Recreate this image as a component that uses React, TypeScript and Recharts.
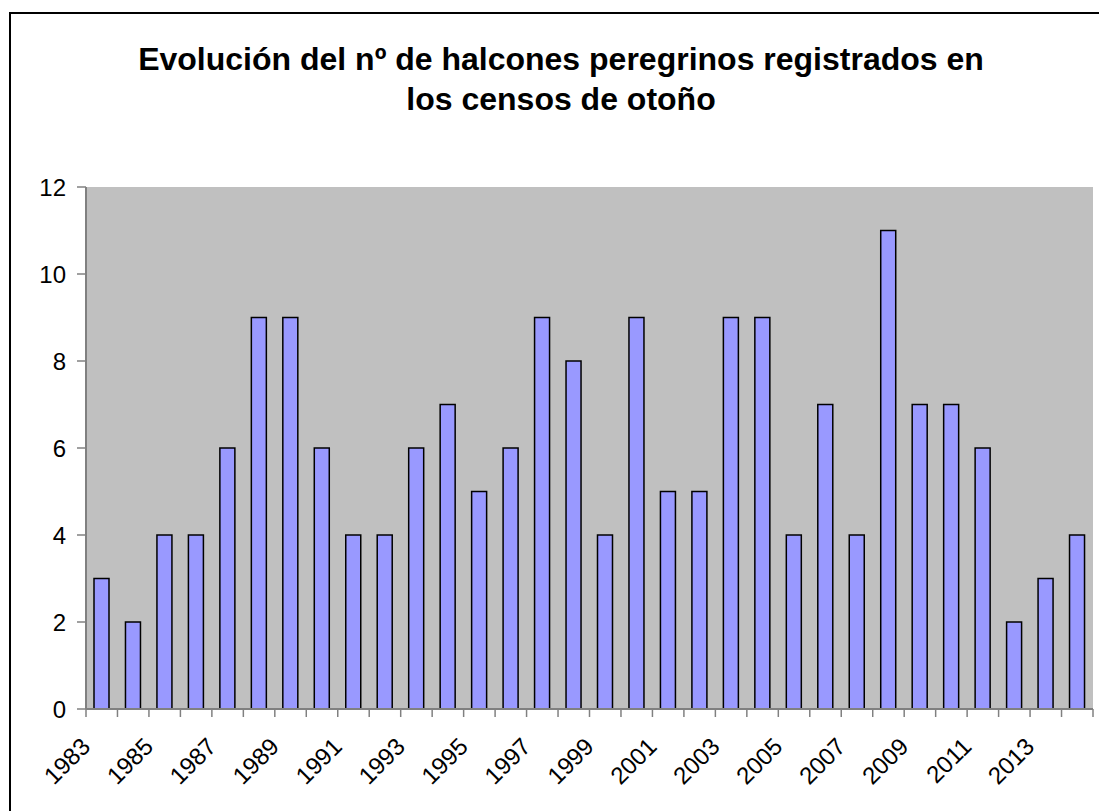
import React from "react"
import { BarChart, Bar, XAxis, YAxis, CartesianGrid } from "recharts"

const years = [
  "1983", "1984", "1985", "1986", "1987", "1988", "1989", "1990",
  "1991", "1992", "1993", "1994", "1995", "1996", "1997", "1998",
  "1999", "2000", "2001", "2002", "2003", "2004", "2005", "2006",
  "2007", "2008", "2009", "2010", "2011", "2012", "2013", "2014",
]
const halcones = [
  3, 2, 4, 4, 6, 9, 9, 6, 4, 4, 6, 7, 5, 6, 9, 8,
  4, 9, 5, 5, 9, 9, 4, 7, 4, 11, 7, 7, 6, 2, 3, 4,
]
const yTicks = [0, 2, 4, 6, 8, 10, 12]

const data = years.map((y, i) => ({ year: y, value: halcones[i] }))

const W = 1099
const H = 811
const PLOT_LEFT = 86
const PLOT_RIGHT = 1093
const PLOT_TOP = 187
const PLOT_BOTTOM = 709
const BAND = (PLOT_RIGHT - PLOT_LEFT) / years.length
const FONT = "'Liberation Sans', Arial, sans-serif"

// eslint-disable-next-line @typescript-eslint/no-explicit-any
function YearTick({ x, y, payload, index }: any) {
  const i = payload?.index ?? index
  const left = x - BAND / 2
  const ax = x - 10
  const ay = y + 39
  return (
    <g>
      <line x1={left} x2={left} y1={y} y2={y + 8} stroke="#808080" strokeWidth={1.5} />
      {i === years.length - 1 && (
        <line x1={x + BAND / 2} x2={x + BAND / 2} y1={y} y2={y + 8} stroke="#808080" strokeWidth={1.5} />
      )}
      {i % 2 === 0 && (
        <text
          x={ax}
          y={ay}
          textAnchor="end"
          fontSize={24}
          fontFamily={FONT}
          fill="#000"
          transform={`rotate(-45 ${ax} ${ay})`}
        >
          {payload.value}
        </text>
      )}
    </g>
  )
}

export default function App() {
  return (
    <div style={{ position: "absolute", left: 0, top: 0, width: W, height: H, background: "#fff", overflow: "hidden" }}>
      <div
        style={{
          position: "absolute",
          left: 9,
          top: 12,
          width: W,
          height: H,
          borderLeft: "2px solid #000",
          borderTop: "2px solid #000",
        }}
      />
      <div
        style={{
          position: "absolute",
          left: 0,
          top: 39,
          width: 1122,
          textAlign: "center",
          fontFamily: FONT,
          fontWeight: "bold",
          fontSize: 32,
          lineHeight: "40px",
          color: "#000",
        }}
      >
        Evolución del nº de halcones peregrinos registrados en
        <br />
        los censos de otoño
      </div>
      <div style={{ position: "absolute", left: 0, top: 0 }}>
        <BarChart
          width={W}
          height={H}
          data={data}
          barSize={15}
          margin={{ top: PLOT_TOP, right: W - PLOT_RIGHT, bottom: 0, left: 0 }}
        >
          <CartesianGrid fill="#C0C0C0" horizontal={false} vertical={false} />
          <XAxis
            dataKey="year"
            interval={0}
            height={H - PLOT_BOTTOM}
            tickLine={false}
            tickSize={0}
            tickMargin={0}
            axisLine={{ stroke: "#808080", strokeWidth: 2 }}
            tick={<YearTick />}
          />
          <XAxis
            xAxisId="top"
            orientation="top"
            dataKey="year"
            height={0}
            tick={false}
            tickLine={false}
            axisLine={{ stroke: "#808080", strokeWidth: 2 }}
          />
          <YAxis
            domain={[0, 12]}
            ticks={yTicks}
            width={PLOT_LEFT}
            tickSize={9}
            tickMargin={11}
            interval={0}
            axisLine={{ stroke: "#808080", strokeWidth: 2 }}
            tickLine={{ stroke: "#808080", strokeWidth: 1.5 }}
            tick={{ fill: "#000", fontSize: 24, fontFamily: FONT }}
          />
          <YAxis
            yAxisId="right"
            orientation="right"
            domain={[0, 12]}
            width={0}
            tick={false}
            tickLine={false}
            axisLine={{ stroke: "#808080", strokeWidth: 2 }}
          />
          <Bar
            dataKey="value"
            fill="#9999FF"
            stroke="#000"
            strokeWidth={1.5}
            isAnimationActive={false}
          />
        </BarChart>
      </div>
    </div>
  )
}
